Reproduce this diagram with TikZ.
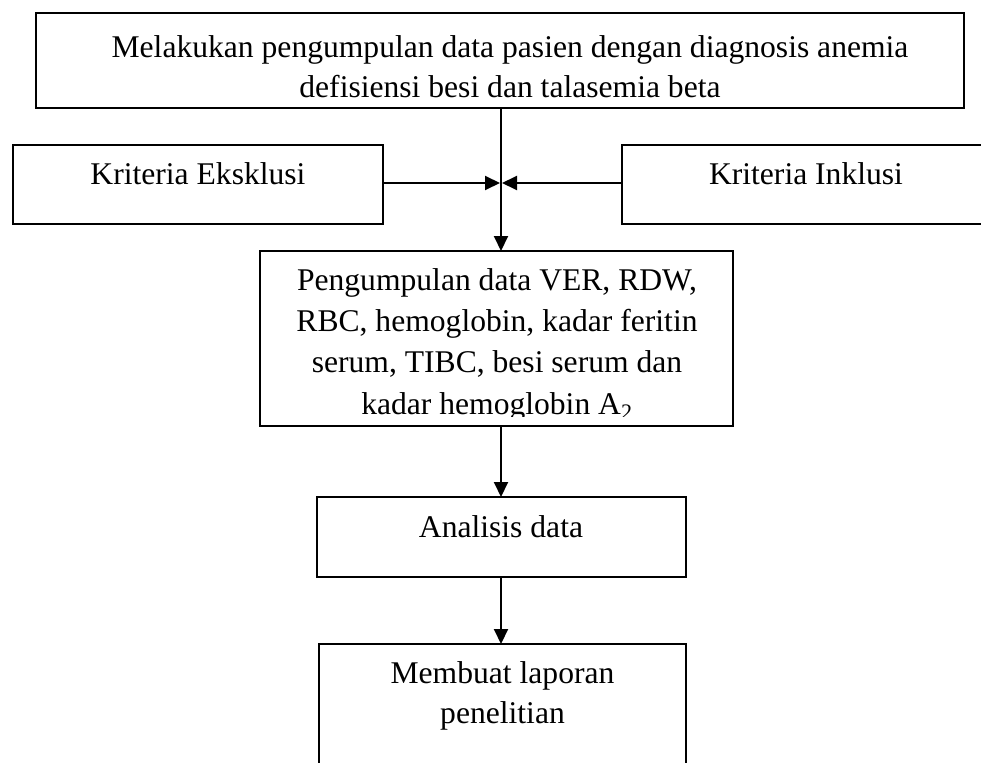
\documentclass[tikz,border=0pt]{standalone}
\usepackage{fontspec}
\setmainfont{Liberation Serif}
\usetikzlibrary{arrows.meta}
\begin{document}
\begin{tikzpicture}[x=0.75pt,y=-0.75pt,
  box/.style={inner sep=0pt, outer sep=0pt},
  boxd/.style={box, draw, line width=1.5pt},
  edge/.style={line width=1.5pt, black},
  txt/.style={inner sep=0pt, align=center, font=\fontsize{23.7pt}{30pt}\selectfont},
  arr/.style={line width=1.5pt, -{Triangle[length=11.25pt,width=10.5pt]}}]
\useasboundingbox (0,0) rectangle (981,763);
\fill[white] (0,0) rectangle (981,763);
% boxes
\node[boxd, minimum width=696pt, minimum height=71.25pt] (top) at (500,60.5) {};
\node[boxd, minimum width=277.5pt, minimum height=59.25pt] (eks) at (198,184.5) {};
\node[box, minimum width=269.25pt, minimum height=59.25pt] (ink) at (801.5,184.5) {};
\node[boxd, minimum width=354.75pt, minimum height=131.25pt] (pen) at (496.5,338.5) {};
\node[boxd, minimum width=276.75pt, minimum height=60pt] (ana) at (501.5,537) {};
\node[box, minimum width=275.25pt, minimum height=89.25pt] (mem) at (502.5,703.5) {};
\draw[edge] (ink.north east) -- (ink.north west) -- (ink.south west) -- (ink.south east);
\draw[edge] (mem.south west) -- (mem.north west) -- (mem.north east) -- (mem.south east);
% texts
\node[txt] (topT) at (510,67) {Melakukan pengumpulan data pasien dengan diagnosis anemia\\defisiensi besi dan talasemia beta};
\node[txt, anchor=base] (eksT) at (198,185) {Kriteria Eksklusi};
\node[txt, anchor=base] (inkT) at (806,185) {Kriteria Inklusi};
\begin{scope}
\clip (262,252) rectangle (731,416);
\node[txt, font=\fontsize{23.7pt}{31pt}\selectfont] (penT) at (497,344.5) {Pengumpulan data VER, RDW,\\RBC, hemoglobin, kadar feritin\\serum, TIBC, besi serum dan\\kadar hemoglobin A\textsubscript{2}};
\end{scope}
\node[txt, anchor=base] (anaT) at (501,537) {Analisis data};
\node[txt] (memT) at (502.5,696) {Membuat laporan\\penelitian};
% connectors
\coordinate (j) at (501,183);
\draw[edge] (top.south -| j) -- (j);
\draw[arr] (j) -- (pen.north -| j);
\draw[arr, shorten >=0.75pt] (eks.east |- j) -- (j);
\draw[arr, shorten >=0.75pt] (ink.west |- j) -- (j);
\draw[arr] (pen.south -| j) -- (ana.north -| j);
\draw[arr] (ana.south -| j) -- (mem.north -| j);
\end{tikzpicture}
\end{document}
